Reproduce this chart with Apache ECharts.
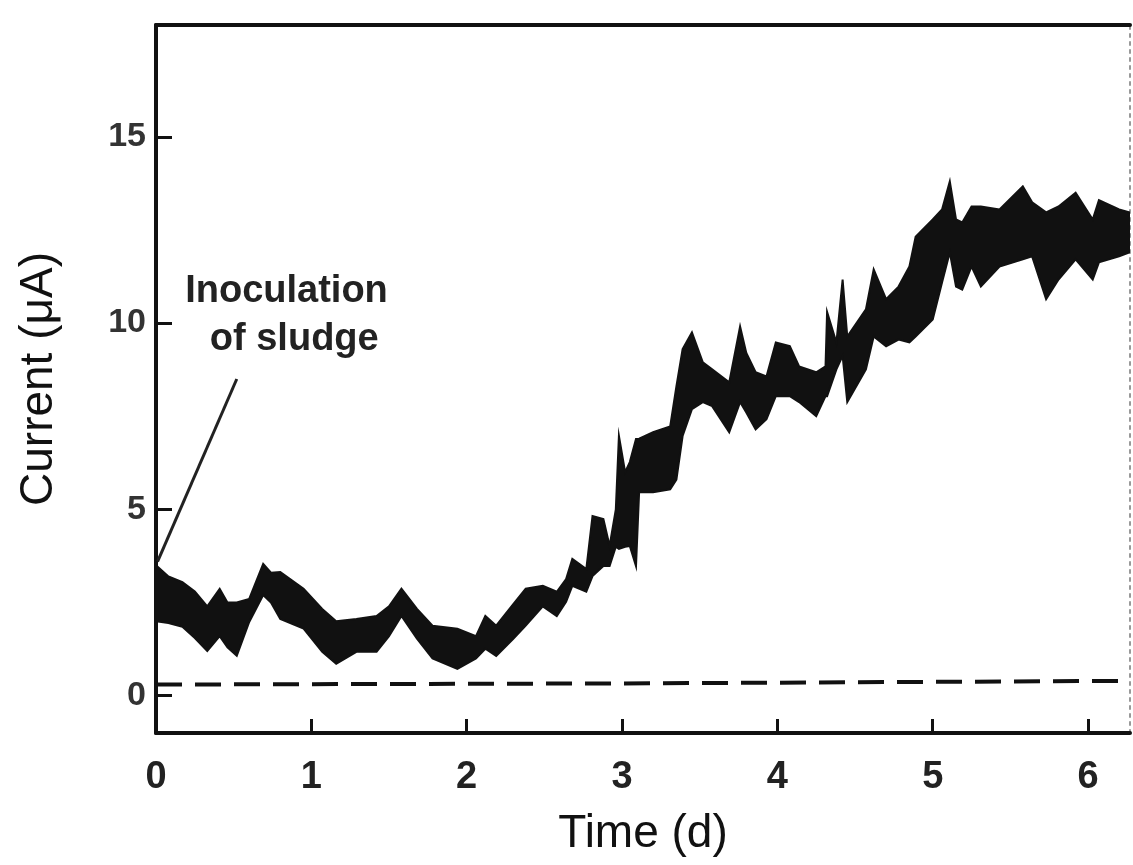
<!DOCTYPE html>
<html>
<head>
<meta charset="utf-8">
<script src="https://cdn.jsdelivr.net/npm/echarts@6/dist/echarts.min.js"></script>
<style>
  html, body { margin: 0; padding: 0; background: #fff; }
  #chart { width: 1133px; height: 865px; }
</style>
</head>
<body>
<div id="chart"></div>
<script>
// current band (noisy trace): time in days, upper / lower edge in uA
var bandTime = [0.00, 0.08, 0.17, 0.25, 0.33, 0.41, 0.46, 0.52, 0.60, 0.69, 0.74, 0.80, 0.95, 1.07, 1.16, 1.29, 1.42, 1.50, 1.58, 1.68,
  1.78, 1.94, 2.06, 2.12, 2.19, 2.30, 2.38, 2.49, 2.58, 2.64, 2.68, 2.77, 2.81, 2.88, 2.92, 2.96, 2.98, 3.02, 3.05, 3.09,
  3.11, 3.20, 3.31, 3.35, 3.39, 3.45, 3.52, 3.58, 3.69, 3.76, 3.80, 3.86, 3.93, 3.99, 4.08, 4.14, 4.25, 4.31, 4.32, 4.38,
  4.42, 4.45, 4.57, 4.62, 4.70, 4.78, 4.85, 4.89, 5.00, 5.06, 5.11, 5.15, 5.19, 5.25, 5.31, 5.43, 5.58, 5.64, 5.73, 5.81,
  5.92, 6.03, 6.07, 6.20, 6.27]
var bandHigh = [3.5, 3.2, 3.05, 2.8, 2.4, 2.87, 2.5, 2.5, 2.6, 3.54, 3.3, 3.32, 2.87, 2.33, 2.0, 2.06, 2.14, 2.4, 2.87, 2.33,
  1.88, 1.8, 1.6, 2.14, 1.88, 2.46, 2.87, 2.95, 2.79, 3.13, 3.67, 3.4, 4.82, 4.74, 4.02, 5.0, 6.97, 6.0, 6.27, 6.89,
  6.9, 7.07, 7.23, 8.3, 9.3, 9.75, 8.95, 8.76, 8.41, 9.91, 9.2, 8.68, 8.57, 9.48, 9.38, 8.84, 8.68, 8.84, 10.3, 9.48,
  11.17, 9.64, 10.37, 11.44, 10.64, 10.98, 11.52, 12.32, 12.78, 13.05, 13.8, 12.78, 12.7, 13.13, 13.13, 13.05, 13.67, 13.24, 12.97, 13.13,
  13.5, 12.78, 13.3, 13.05, 12.97]
var bandLow = [2.0, 1.95, 1.85, 1.55, 1.2, 1.6, 1.3, 1.07, 1.98, 2.7, 2.5, 2.06, 1.8, 1.18, 0.86, 1.18, 1.18, 1.6, 2.14, 1.53,
  1.0, 0.72, 1.0, 1.26, 1.07, 1.53, 1.88, 2.4, 2.14, 2.52, 2.95, 2.79, 3.21, 3.48, 3.48, 4.0, 3.94, 4.0, 4.02, 3.48,
  5.46, 5.46, 5.54, 5.8, 6.97, 7.69, 7.88, 7.77, 7.07, 7.88, 7.6, 7.15, 7.42, 8.04, 8.04, 7.88, 7.5, 8.04, 8.04, 8.76,
  9.12, 7.88, 8.76, 9.64, 9.38, 9.56, 9.48, 9.64, 10.1, 11.09, 11.9, 10.98, 10.9, 11.52, 10.98, 11.52, 11.71, 11.79, 10.64, 11.17,
  11.71, 11.17, 11.63, 11.79, 11.9]

// control (dashed) trace
var controlTime = [0, 3, 6.27]
var controlValue = [0.3, 0.33, 0.4]

// annotation pointer: from text down to start of trace
var pointerTime = [0.01, 0.52]
var pointerValue = [3.6, 8.5]

var yTicks = [0, 5, 10, 15]
var fontFamily = '"Liberation Sans", Arial, sans-serif'

var chart = echarts.init(document.getElementById('chart'))

var option = {
  backgroundColor: '#fff',
  animation: false,
  grid: {
    left: 156,
    right: 3,
    top: 25,
    bottom: 132
  },
  xAxis: [{
    type: 'value',
    position: 'bottom',
    min: 0,
    max: 6.27,
    interval: 1,
    name: 'Time (d)',
    nameLocation: 'middle',
    nameGap: 78,
    nameTextStyle: { fontSize: 46, color: '#111', fontFamily: fontFamily },
    axisLine: { show: true, onZero: false, lineStyle: { color: '#111', width: 4 } },
    axisTick: { show: true, inside: true, length: 14, lineStyle: { color: '#111', width: 3 } },
    splitLine: { show: false },
    axisLabel: {
      margin: 26,
      fontSize: 38,
      fontWeight: 'bold',
      color: '#222',
      fontFamily: fontFamily,
      showMaxLabel: false
    }
  }, {
    type: 'value',
    position: 'top',
    min: 0,
    max: 6.27,
    axisLine: { show: true, onZero: false, lineStyle: { color: '#111', width: 4 } },
    axisTick: { show: false },
    axisLabel: { show: false },
    splitLine: { show: false }
  }],
  yAxis: [{
    type: 'value',
    position: 'left',
    min: -1,
    max: 18,
    name: 'Current (\u03bcA)',
    nameLocation: 'middle',
    nameGap: 94,
    nameRotate: 90,
    nameTextStyle: { fontSize: 46, color: '#111', fontFamily: fontFamily },
    axisLine: { show: true, onZero: false, lineStyle: { color: '#111', width: 4 } },
    axisTick: { show: true, inside: true, length: 16, customValues: yTicks, lineStyle: { color: '#111', width: 3 } },
    splitLine: { show: false },
    axisLabel: {
      customValues: yTicks,
      margin: 10,
      fontSize: 34,
      fontWeight: 'bold',
      color: '#333',
      fontFamily: fontFamily
    }
  }, {
    type: 'value',
    position: 'right',
    min: -1,
    max: 18,
    axisLine: { show: true, onZero: false, lineStyle: { color: '#999', width: 2, type: [3, 5] } },
    axisTick: { show: false },
    axisLabel: { show: false },
    splitLine: { show: false }
  }],
  series: [{
    type: 'custom',
    name: 'current',
    clip: true,
    encode: { x: 0, y: [1, 2] },
    data: bandTime.map(function (t, i) { return [t, bandLow[i], bandHigh[i]] }),
    renderItem: function (params, api) {
      if (params.dataIndex !== 0) {
        return
      }
      var pts = []
      for (var i = 0; i < bandTime.length; i++) {
        pts.push(api.coord([bandTime[i], bandHigh[i]]))
      }
      for (var j = bandTime.length - 1; j >= 0; j--) {
        pts.push(api.coord([bandTime[j], bandLow[j]]))
      }
      return {
        type: 'polygon',
        shape: { points: pts },
        style: { fill: '#111', stroke: '#111', lineWidth: 2 }
      }
    }
  }, {
    type: 'line',
    name: 'control',
    data: controlTime.map(function (t, i) { return [t, controlValue[i]] }),
    symbol: 'none',
    lineStyle: { color: '#111', width: 4, type: [26, 13] }
  }, {
    type: 'line',
    name: 'pointer',
    data: pointerTime.map(function (t, i) { return [t, pointerValue[i]] }),
    symbol: 'none',
    lineStyle: { color: '#222', width: 3 },
    markPoint: {
      symbol: 'circle',
      symbolSize: 0,
      label: {
        show: true,
        position: 'inside',
        fontSize: 38,
        fontWeight: 'bold',
        color: '#222',
        fontFamily: fontFamily
      },
      data: [
        { coord: [0.84, 10.86], value: 'Inoculation', label: { formatter: 'Inoculation' } },
        { coord: [0.89, 9.57], value: 'of sludge', label: { formatter: 'of sludge' } }
      ]
    }
  }]
}

chart.setOption(option)
</script>
</body>
</html>
